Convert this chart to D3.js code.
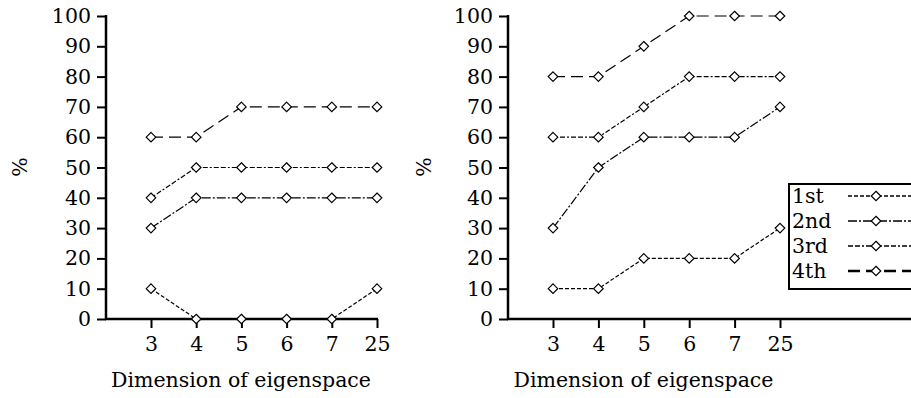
<!DOCTYPE html>
<html>
<head>
<meta charset="utf-8">
<script src="https://cdn.jsdelivr.net/npm/d3@7"></script>
<style>
  body { margin: 0; background: #fff; }
  svg { display: block; }
  text { font-family: "DejaVu Serif", serif; fill: #000; }
</style>
</head>
<body>
<svg id="chart" width="911" height="398"></svg>
<script>
// categories on the x axis
const dims = ["3", "4", "5", "6", "7", "25"];
const yTicks = [0, 10, 20, 30, 40, 50, 60, 70, 80, 90, 100];
const seriesNames = ["1st", "2nd", "3rd", "4th"];

// left panel values
const leftFirst = [10, 0, 0, 0, 0, 10];
const leftSecond = [30, 40, 40, 40, 40, 40];
const leftThird = [40, 50, 50, 50, 50, 50];
const leftFourth = [60, 60, 70, 70, 70, 70];

// right panel values
const rightFirst = [10, 10, 20, 20, 20, 30];
const rightSecond = [30, 50, 60, 60, 60, 70];
const rightThird = [60, 60, 70, 80, 80, 80];
const rightFourth = [80, 80, 90, 100, 100, 100];

const dashes = ["4,2", "9,2,2,2", "5,2,5,2,2,2", "12,6"];

const svg = d3.select("#chart");
const fontSize = 20.5;

const diamond = d3.symbol().type(d3.symbolDiamond2).size(58);

function drawPanel(opts) {
  const { axisX, axisEnd, firstX, lastX, values, labelX } = opts;
  const g = svg.append("g");

  const x = d3.scalePoint().domain(dims).range([firstX, lastX]);
  const y = d3.scaleLinear().domain([0, 100]).range([319, 16]);

  // y axis
  const yAxis = g.append("g")
    .attr("transform", `translate(${axisX},0)`)
    .call(d3.axisLeft(y).tickValues(yTicks).tickSize(9).tickSizeOuter(0).tickPadding(6));
  yAxis.select(".domain").remove();
  yAxis.selectAll(".tick line").attr("stroke", "#000").attr("stroke-width", 2);
  yAxis.selectAll(".tick text").style("font-size", fontSize + "px").attr("font-family", null);

  g.append("line")
    .attr("x1", axisX).attr("x2", axisX)
    .attr("y1", y(100) - 1).attr("y2", y(0) + 1)
    .attr("stroke", "#000").attr("stroke-width", 2.5);

  // x axis
  const xAxis = g.append("g")
    .attr("transform", `translate(0,${y(0)})`)
    .call(d3.axisBottom(x).tickSize(9).tickSizeOuter(0).tickPadding(8));
  xAxis.select(".domain").remove();
  xAxis.selectAll(".tick line").attr("stroke", "#000").attr("stroke-width", 2);
  xAxis.selectAll(".tick text").style("font-size", fontSize + "px").attr("font-family", null);

  g.append("line")
    .attr("x1", axisX - 1).attr("x2", axisEnd)
    .attr("y1", y(0)).attr("y2", y(0))
    .attr("stroke", "#000").attr("stroke-width", 2.5);

  // axis titles
  g.append("text")
    .attr("transform", `translate(${labelX},167) rotate(-90)`)
    .attr("text-anchor", "middle")
    .attr("dominant-baseline", "central")
    .style("font-size", fontSize + "px")
    .text("%");

  g.append("text")
    .attr("x", (firstX + lastX) / 2 - 23)
    .attr("y", 387)
    .attr("text-anchor", "middle")
    .style("font-size", fontSize + "px")
    .text("Dimension of eigenspace");

  const line = d3.line()
    .x((d, i) => x(dims[i]))
    .y(d => y(d));

  values.forEach((vals, k) => {
    g.append("path")
      .attr("d", line(vals))
      .attr("fill", "none")
      .attr("stroke", "#000")
      .attr("stroke-width", 1.2)
      .attr("stroke-dasharray", dashes[k]);

    g.selectAll(null)
      .data(vals)
      .join("path")
      .attr("d", diamond)
      .attr("transform", (d, i) => `translate(${x(dims[i])},${y(d)})`)
      .attr("fill", "#fff")
      .attr("stroke", "#000")
      .attr("stroke-width", 1.2);
  });
}

drawPanel({
  axisX: 106, axisEnd: 378, firstX: 151, lastX: 377, labelX: 20,
  values: [leftFirst, leftSecond, leftThird, leftFourth]
});

drawPanel({
  axisX: 508, axisEnd: 911, firstX: 553, lastX: 780, labelX: 424,
  values: [rightFirst, rightSecond, rightThird, rightFourth]
});

// legend
const legend = svg.append("g");
legend.append("rect")
  .attr("x", 789).attr("y", 184)
  .attr("width", 130).attr("height", 105)
  .attr("fill", "#fff")
  .attr("stroke", "#000")
  .attr("stroke-width", 2);

seriesNames.forEach((name, k) => {
  const cy = 196 + k * 25;
  legend.append("text")
    .attr("x", 792).attr("y", cy)
    .attr("dominant-baseline", "central")
    .style("font-size", fontSize + "px")
    .text(name);
  legend.append("line")
    .attr("x1", 848).attr("x2", 911)
    .attr("y1", cy).attr("y2", cy)
    .attr("stroke", "#000")
    .attr("stroke-width", k === 3 ? 2.5 : 1.5)
    .attr("stroke-dasharray", dashes[k]);
  legend.append("path")
    .attr("d", diamond)
    .attr("transform", `translate(876,${cy})`)
    .attr("fill", "#fff")
    .attr("stroke", "#000")
    .attr("stroke-width", 1.2);
});
</script>
</body>
</html>
